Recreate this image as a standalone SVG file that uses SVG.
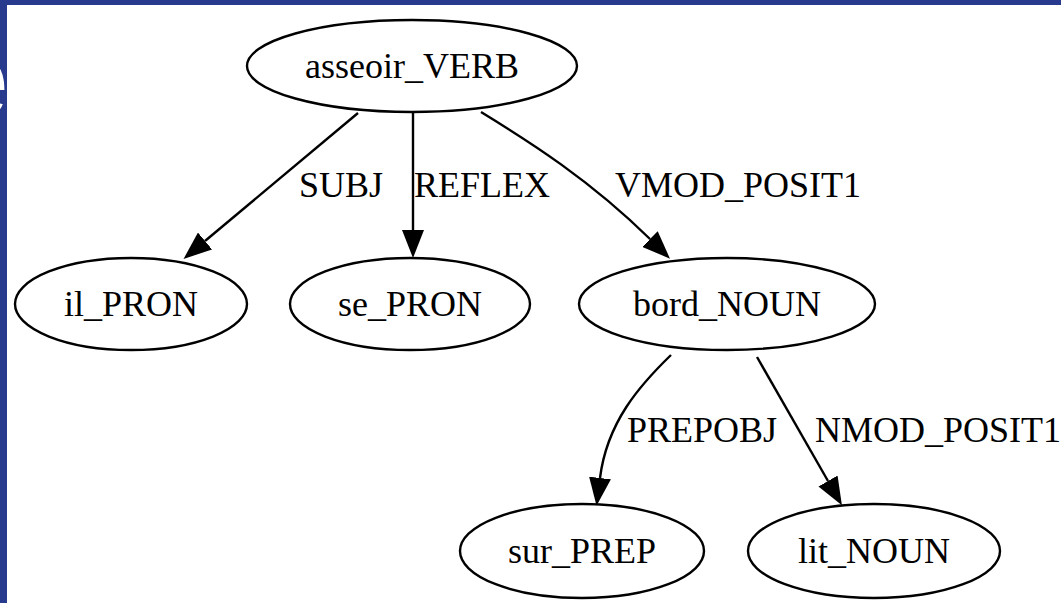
<svg xmlns="http://www.w3.org/2000/svg" width="1061" height="603" viewBox="0 0 1061 603">
<style>
.node ellipse{fill:none;stroke:#000;stroke-width:2.4}
.node text{font-family:"Liberation Serif","Times New Roman",serif;font-size:36px;fill:#000;text-anchor:middle}
.lbl{font-family:"Liberation Serif","Times New Roman",serif;font-size:36px;fill:#000}
.edge{fill:none;stroke:#000;stroke-width:2.4;marker-end:url(#arr)}
</style>
<defs>
<marker id="arr" markerUnits="userSpaceOnUse" viewBox="0 0 28 22" refX="0" refY="11" markerWidth="28" markerHeight="22" orient="auto">
<path d="M0,0 L28,11 L0,22 z" fill="#000"/>
</marker>
</defs>
<rect width="1061" height="603" fill="#fff"/>
<rect x="0" y="0" width="1061" height="5" fill="#283a8e"/>
<rect x="0" y="0" width="7" height="603" fill="#283a8e"/>
<text x="-52" y="117" font-family="Liberation Sans, sans-serif" font-size="110" fill="#fff">e</text>
<g id="connectors">
<path class="edge" d="M358,113 L205,241"/>
<path class="edge" d="M413,113 L413,230"/>
<path class="edge" d="M481,112 C530,142 590,180 650,239"/>
<path class="edge" d="M671,355 C640,385 607,422 600,478"/>
<path class="edge" d="M757,357 L828,481"/>
<text class="lbl" x="299" y="197">SUBJ</text>
<text class="lbl" x="414" y="197">REFLEX</text>
<text class="lbl" x="615" y="197">VMOD_POSIT1</text>
<text class="lbl" x="627" y="442">PREPOBJ</text>
<text class="lbl" x="815" y="442">NMOD_POSIT1</text>
</g>
<g id="n_asseoir" class="node"><ellipse cx="412" cy="66" rx="165" ry="46"/><text x="412" y="78">asseoir_VERB</text></g>
<g id="n_il" class="node"><ellipse cx="131" cy="304" rx="116" ry="46"/><text x="131" y="316">il_PRON</text></g>
<g id="n_se" class="node"><ellipse cx="410" cy="304" rx="120" ry="46"/><text x="410" y="316">se_PRON</text></g>
<g id="n_bord" class="node"><ellipse cx="727" cy="304" rx="148" ry="46"/><text x="727" y="316">bord_NOUN</text></g>
<g id="n_sur" class="node"><ellipse cx="582" cy="551" rx="122" ry="47"/><text x="582" y="563">sur_PREP</text></g>
<g id="n_lit" class="node"><ellipse cx="874" cy="551" rx="126" ry="47"/><text x="874" y="563">lit_NOUN</text></g>
</svg>
